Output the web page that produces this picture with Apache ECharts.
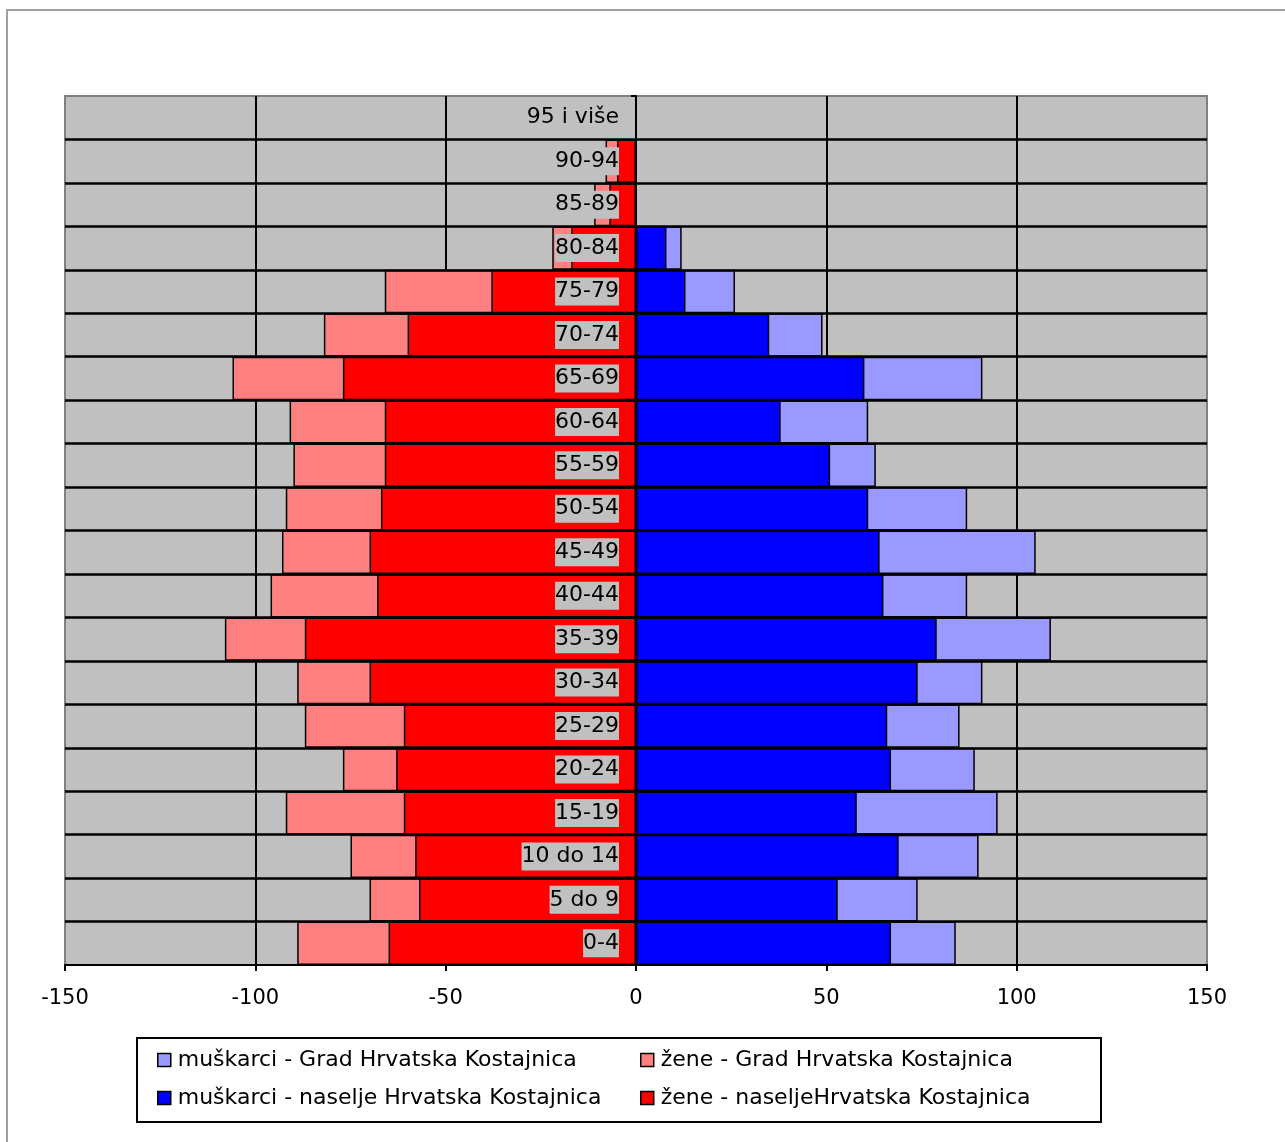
<!DOCTYPE html>
<html>
<head>
<meta charset="utf-8">
<script src="https://cdn.jsdelivr.net/npm/echarts@6/dist/echarts.min.js"></script>
<style>
  html, body { margin: 0; padding: 0; background: #ffffff; }
  #chart { width: 1285px; height: 1142px; }
</style>
</head>
<body>
<div id="chart"></div>
<script>
// Age groups, bottom to top
var categories = ['0-4', '5 do 9', '10 do 14', '15-19', '20-24', '25-29', '30-34', '35-39', '40-44', '45-49',
  '50-54', '55-59', '60-64', '65-69', '70-74', '75-79', '80-84', '85-89', '90-94', '95 i više'];

// muškarci - Grad Hrvatska Kostajnica
var menGrad = [84, 74, 90, 95, 89, 85, 91, 109, 87, 105, 87, 63, 61, 91, 49, 26, 12, 0, 0, 0];
// muškarci - naselje Hrvatska Kostajnica
var menNaselje = [67, 53, 69, 58, 67, 66, 74, 79, 65, 64, 61, 51, 38, 60, 35, 13, 8, 0, 0, 0];
// žene - Grad Hrvatska Kostajnica (plotted to the left)
var womenGrad = [-89, -70, -75, -92, -77, -87, -89, -108, -96, -93, -92, -90, -91, -106, -82, -66, -22, -11, -8, 0];
// žene - naselje Hrvatska Kostajnica (plotted to the left)
var womenNaselje = [-65, -57, -58, -61, -63, -61, -70, -87, -68, -70, -67, -66, -66, -77, -60, -38, -17, -7, -5, 0];

var xTicks = { min: -150, max: 150, interval: 50 };

var names = [
  'muškarci - Grad Hrvatska Kostajnica',
  'žene - Grad Hrvatska Kostajnica',
  'muškarci - naselje Hrvatska Kostajnica',
  'žene - naseljeHrvatska Kostajnica'
];
var colors = ['#9999ff', '#ff8080', '#0000ff', '#ff0000'];
var FONT = 'DejaVu Sans';

var GRID_LEFT = 65, GRID_RIGHT = 78;
var plotWidth = 1285 - GRID_LEFT - GRID_RIGHT;
// y axis sits at value 0 of the x axis: shift it inward from the left edge
var zeroOffset = -plotWidth * (0 - xTicks.min) / (xTicks.max - xTicks.min);

function barSeries(name, data, color) {
  return {
    name: name,
    type: 'bar',
    data: data,
    barGap: '-100%',
    barCategoryGap: 0,
    itemStyle: { color: color, borderColor: '#000', borderWidth: 1.5 },
    emphasis: { disabled: true },
    animation: false
  };
}

function legendAt(name, left, top) {
  return {
    data: [name],
    left: left,
    top: top,
    padding: 0,
    icon: 'rect',
    itemWidth: 13,
    itemHeight: 13,
    itemStyle: { borderColor: '#000', borderWidth: 1.5 },
    textStyle: { fontFamily: FONT, fontSize: 22, color: '#000', padding: [0, 0, 0, 2] },
    selectedMode: false
  };
}

var chart = echarts.init(document.getElementById('chart'), null, { renderer: 'canvas' });
chart.setOption({
  animation: false,
  backgroundColor: '#ffffff',
  textStyle: { fontFamily: FONT },
  graphic: [
    { type: 'rect', z: 0, shape: { x: 7, y: 10, width: 1400, height: 1300 },
      style: { fill: 'none', stroke: '#a0a0a0', lineWidth: 2 } },
    { type: 'rect', z: 0, shape: { x: 137, y: 1038, width: 964, height: 84 },
      style: { fill: '#ffffff', stroke: '#000000', lineWidth: 2 } }
  ],
  grid: {
    left: GRID_LEFT, right: GRID_RIGHT, top: 96, bottom: 177,
    outerBoundsMode: 'none', containLabel: false,
    show: true, backgroundColor: '#c0c0c0', borderColor: '#808080', borderWidth: 2
  },
  xAxis: {
    type: 'value',
    min: xTicks.min, max: xTicks.max, interval: xTicks.interval,
    axisLine: { show: true, onZero: false, lineStyle: { color: '#000', width: 2 } },
    axisTick: { show: true, length: 6, lineStyle: { color: '#000', width: 2 } },
    axisLabel: { fontFamily: FONT, fontSize: 21, color: '#000', margin: 23 },
    splitLine: { show: true, showMinLine: false, showMaxLine: false, lineStyle: { color: '#000', width: 2 } }
  },
  yAxis: {
    type: 'category',
    data: categories,
    position: 'left',
    offset: zeroOffset,
    z: 10,
    axisLine: { show: true, onZero: false, lineStyle: { color: '#000', width: 2 } },
    axisTick: { show: true, length: 5, interval: 0, lineStyle: { color: '#000', width: 2 } },
    axisLabel: {
      interval: 0, fontFamily: FONT, fontSize: 22, color: '#000', margin: 17,
      backgroundColor: '#c0c0c0', padding: [2, 0, 1, 0], lineHeight: 25
    },
    splitLine: { show: true, interval: 0, showMinLine: false, showMaxLine: false, lineStyle: { color: '#000', width: 2.5 } }
  },
  legend: [
    legendAt(names[0], 157, 1049),
    legendAt(names[1], 640, 1049),
    legendAt(names[2], 157, 1087),
    legendAt(names[3], 640, 1087)
  ],
  series: [
    barSeries(names[0], menGrad, colors[0]),
    barSeries(names[1], womenGrad, colors[1]),
    barSeries(names[2], menNaselje, colors[2]),
    barSeries(names[3], womenNaselje, colors[3])
  ]
});
</script>
</body>
</html>
